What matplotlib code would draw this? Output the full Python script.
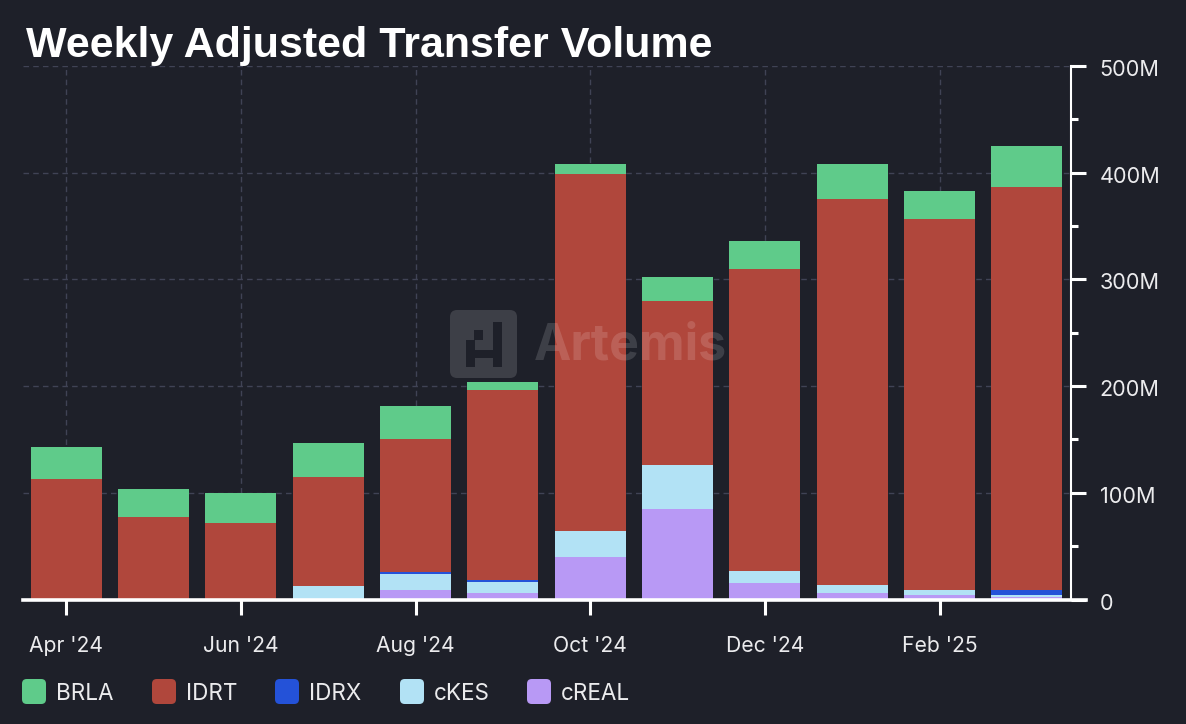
"""Weekly adjusted transfer volume, stacked bars on a dark background."""

import matplotlib
matplotlib.use("Agg")
import matplotlib.pyplot as plt
from matplotlib.patches import FancyBboxPatch, Rectangle
from matplotlib.ticker import MultipleLocator
from matplotlib.transforms import ScaledTranslation

W, H = 1186, 724
BG = "#1e2029"
GRID = "#404355"
TEXT = "#ebebed"

months = ["Apr '24", "May '24", "Jun '24", "Jul '24", "Aug '24", "Sep '24",
          "Oct '24", "Nov '24", "Dec '24", "Jan '25", "Feb '25", "Mar '25"]

# segment sizes in millions
creal = [0, 0, 0, 0, 8.5, 6.5, 39.5, 84.5, 15, 6.5, 4.5, 2.8]
ckes = [0, 0, 0, 12.5, 15, 9.5, 24.5, 41.2, 12, 7.5, 4, 1.7]
idrx = [0, 0, 0, 0, 2, 2, 0, 0, 0, 0, 0, 4]
idrt = [112.6, 77.5, 71.5, 102, 124.5, 178, 335, 153.8, 282.5, 361, 348, 378]
brla = [30, 26.5, 28, 32, 31, 7.5, 9, 22.5, 26.5, 33, 26, 38.5]

# bottom to top
series = [("cREAL", creal, "#b899f5"), ("cKES", ckes, "#b2e2f5"),
          ("IDRX", idrx, "#2452d8"), ("IDRT", idrt, "#b0473c"),
          ("BRLA", brla, "#5fcb8a")]
legend_x = {"BRLA": 22, "IDRT": 152, "IDRX": 275, "cKES": 400, "cREAL": 527}

plt.rcParams["font.family"] = ["Inter", "DejaVu Sans"]


def fx(px):
    return px / W


def fy(py):
    return 1 - py / H


fig = plt.figure(figsize=(W / 100, H / 100), dpi=100, facecolor=BG)
ax = fig.add_axes([fx(22.5), fy(599.5), (1070.5 - 22.5) / W, (599.5 - 66) / H], facecolor=BG)

x = list(range(len(months)))
bottom = [0.0] * len(months)
for name, vals, color in series:
    ax.bar(x, vals, bottom=bottom, width=0.815, color=color, zorder=3)
    bottom = [b + v for b, v in zip(bottom, vals)]

ax.set_xlim(-0.5, 11.5)
ax.set_ylim(0, 500)

ax.set_xticks(x[::2])
ax.set_xticklabels(months[::2])
ax.yaxis.tick_right()
ax.yaxis.set_major_locator(MultipleLocator(100))
ax.yaxis.set_minor_locator(MultipleLocator(50))
ax.set_yticks(range(0, 501, 100))
ax.set_yticklabels(["0", "100M", "200M", "300M", "400M", "500M"])

ax.tick_params(axis="x", length=11, width=2.2, color="white", labelcolor=TEXT,
               labelsize=15.2, pad=15)
ax.tick_params(axis="y", which="major", length=11, width=2.2, color="white",
               labelcolor=TEXT, labelsize=15.6, pad=10)
ax.tick_params(axis="y", which="minor", length=5, width=2.2, color="white")

# labels sit slightly below their ticks in the original
nudge = ScaledTranslation(0, -2 / 100, fig.dpi_scale_trans)
for label in ax.get_yticklabels():
    label.set_transform(label.get_transform() + nudge)

ax.grid(True, which="major", color=GRID, linestyle=(0, (4, 3)), linewidth=1, zorder=0)

for side in ("left", "top"):
    ax.spines[side].set_visible(False)
ax.spines["right"].set_color("white")
ax.spines["right"].set_linewidth(1.5)
ax.spines["bottom"].set_color("white")
ax.spines["bottom"].set_linewidth(2.6)
ax.spines["bottom"].set_bounds(-0.5, 11.68)
ax.spines["bottom"].set_zorder(5)

fig.text(fx(26), fy(46), "Weekly Adjusted Transfer Volume", family="Liberation Sans",
         fontweight="bold", fontsize=31, color="white", ha="left", va="center")

# watermark
fig.add_artist(FancyBboxPatch((fx(450), fy(378)), 67 / W, 68 / H,
                              boxstyle="round,pad=0,rounding_size=0.006",
                              mutation_aspect=W / H, transform=fig.transFigure,
                              facecolor="#ffffff", edgecolor="none",
                              alpha=0.14, zorder=6))
for px, py, pw, ph in [(493, 322, 9, 45), (466, 340, 9, 27), (474, 330, 9, 10), (466, 350, 36, 8)]:
    fig.add_artist(Rectangle((fx(px), fy(py + ph)), pw / W, ph / H, transform=fig.transFigure,
                             facecolor=BG, edgecolor="none", zorder=7))
fig.text(fx(534), fy(346), "Artemis", fontweight="bold", fontsize=36, color="white",
         alpha=0.14, ha="left", va="center", zorder=6)

# legend
for name, vals, color in series:
    left = legend_x[name]
    fig.add_artist(FancyBboxPatch((fx(left), fy(704)), 24 / W, 25 / H,
                                  boxstyle="round,pad=0,rounding_size=0.004",
                                  mutation_aspect=W / H, transform=fig.transFigure,
                                  facecolor=color, edgecolor="none"))
    fig.text(fx(left + 34), fy(694), name, fontsize=16.2, color=TEXT, ha="left", va="center")

fig.savefig("out.png", dpi=100, facecolor=BG)
